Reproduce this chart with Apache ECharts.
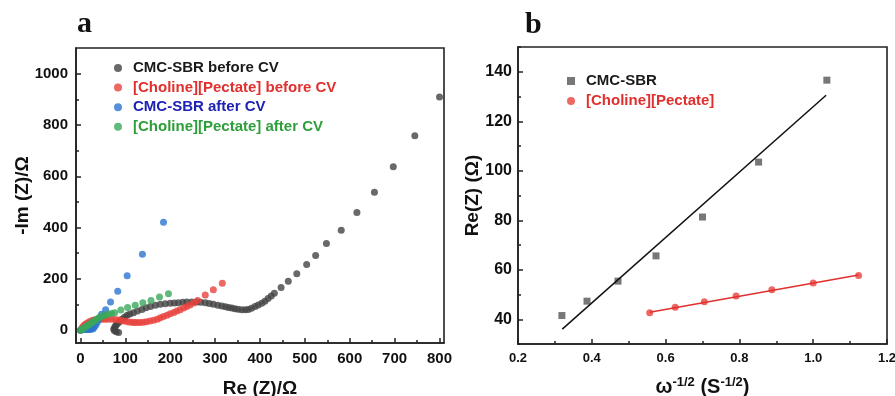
<!DOCTYPE html>
<html><head><meta charset="utf-8">
<script src="https://cdn.jsdelivr.net/npm/echarts@6/dist/echarts.min.js"></script>
<style>html,body{margin:0;padding:0;background:#fff}#c{width:895px;height:396px}</style>
</head><body><div id="c"></div>
<script>
// ---- Panel a: Nyquist data (Re Z, -Im Z) ----
const cmcBefore = [[85,-9],[80,-6],[76,-2],[74,4],[76,10],[78,16],[81,23],[85,30],[89,37],[93,43],[98,50],[104,58],[110,63],[118,68],[127,75],[137,81],[146,87],[156,92],[167,97],[178,101],[189,103],[200,105],[209,106],[218,107],[228,109],[237,110],[248,110],[259,110],[268,109],[278,107],[287,104],[296,101],[306,97],[315,94],[323,91],[330,88],[337,86],[344,84],[351,82],[359,80],[367,80],[374,81],[381,85],[389,92],[396,98],[404,105],[411,113],[418,123],[425,133],[432,144],[447,166],[463,191],[482,220],[504,256],[524,291],[548,338],[581,390],[616,459],[655,538],[697,637],[745,758],[800,909]];
const cholBefore = [[0,0],[2,5],[4,10],[7,16],[10,22],[15,28],[20,33],[25,37],[30,40],[36,42],[42,43],[48,43],[55,43],[62,43],[70,43],[78,42],[86,40],[93,37],[100,35],[107,32],[114,31],[120,30],[126,30],[133,30],[140,31],[147,33],[155,36],[163,39],[171,43],[178,48],[185,53],[193,58],[200,64],[208,69],[215,75],[222,80],[230,86],[237,92],[244,98],[252,106],[261,116],[278,137],[296,158],[316,183]];
const cmcAfter = [[0,0],[4,2],[8,3],[12,3],[16,3],[20,3],[24,4],[28,6],[31,12],[34,20],[37,30],[40,40],[43,50],[47,62],[56,80],[67,110],[83,152],[104,212],[138,296],[185,421]];
const cholAfter = [[0,0],[3,3],[6,6],[9,10],[12,14],[15,17],[19,22],[23,27],[27,32],[31,37],[35,41],[40,46],[45,51],[50,55],[55,59],[62,62],[69,65],[76,68],[90,79],[105,88],[122,97],[139,107],[157,116],[176,129],[196,142]];
const namesA = ['CMC-SBR before CV','[Choline][Pectate] before CV','CMC-SBR after CV','[Choline][Pectate] after CV'];
const ticksAX = [0,100,200,300,400,500,600,700,800];
const minorAX = [50,150,250,350,450,550,650,750];
const ticksAY = [0,200,400,600,800,1000];
const minorAY = [100,300,500,700,900];

// ---- Panel b: Re(Z) vs omega^-1/2 ----
const omegaCMC = [0.319,0.387,0.471,0.574,0.700,0.852,1.037];
const reCMC = [41.5,47.3,55.4,65.6,81.3,103.5,136.6];
const omegaChol = [0.557,0.626,0.705,0.791,0.888,1.000,1.123];
const reChol = [42.6,44.8,47.1,49.4,51.9,54.6,57.7];
const fitCMC = [[0.32,36.0],[1.035,130.5]];
const fitChol = [[0.557,42.8],[1.123,57.9]];
const namesB = ['CMC-SBR','[Choline][Pectate]'];
const ticksBX = [0.2,0.4,0.6,0.8,1.0,1.2];
const minorBX = [0.3,0.5,0.7,0.9,1.1];
const ticksBY = [40,60,80,100,120,140];
const minorBY = [30,50,70,90,110,130,150];

const FONT = 'Arial, "Liberation Sans", sans-serif';
const AX = '#222';
const zip = (a,b)=>a.map((v,i)=>[v,b[i]]);

function mainAxis(opts){
  return Object.assign({
    type:'value', scale:false, nameMoveOverlap:false,
    axisLine:{show:true,onZero:false,lineStyle:{color:AX,width:1.6}},
    splitLine:{show:false}, minorTick:{show:false}
  }, opts);
}
function minorAxis(opts){
  return Object.assign({
    type:'value',
    axisLine:{show:false,onZero:false},
    axisLabel:{show:false},
    splitLine:{show:false}
  }, opts);
}
const majTick = vals => ({show:true,inside:true,length:5,customValues:vals,lineStyle:{color:AX,width:1.5}});
const minTick = vals => ({show:true,inside:true,length:3,customValues:vals,lineStyle:{color:AX,width:1.5}});

const chart = echarts.init(document.getElementById('c'), null, {renderer:'canvas'});
const option = {
  backgroundColor:'#fff',
  animation:false,
  textStyle:{fontFamily:FONT},
  title:[
    {text:'a', left:72, top:4, textStyle:{fontFamily:'"Liberation Serif","Times New Roman",serif',fontWeight:'bold',fontSize:30,color:'#111'}},
    {text:'b', left:520, top:5, textStyle:{fontFamily:'"Liberation Serif","Times New Roman",serif',fontWeight:'bold',fontSize:30,color:'#111'}}
  ],
  grid:[
    {left:76, right:451, top:48, bottom:53, show:true, borderColor:AX, borderWidth:1.6, containLabel:false, outerBoundsMode:'none'},
    {left:518, right:8, top:47, bottom:52, show:true, borderColor:AX, borderWidth:1.6, containLabel:false, outerBoundsMode:'none'}
  ],
  xAxis:[
    mainAxis({gridIndex:0, position:'bottom', min:-10, max:810,
      name:'Re (Z)/Ω', nameLocation:'middle', nameGap:36,
      nameTextStyle:{fontFamily:FONT,fontWeight:'bold',fontSize:19,color:'#111'},
      axisTick:majTick(ticksAX),
      axisLabel:{customValues:ticksAX,fontFamily:FONT,fontWeight:'bold',fontSize:15,color:'#111',margin:8,formatter:v=>String(v)}}),
    minorAxis({gridIndex:0, position:'bottom', min:-10, max:810, axisTick:minTick(minorAX)}),
    mainAxis({gridIndex:1, position:'bottom', min:0.2, max:1.2,
      name:'{b|ω}{s|-1/2}{b| (S}{s|-1/2}{b|)}', nameLocation:'middle', nameGap:32,
      nameTextStyle:{fontFamily:FONT,fontWeight:'bold',fontSize:20,color:'#111',
        rich:{b:{fontFamily:FONT,fontWeight:'bold',fontSize:20,color:'#111',lineHeight:22},
              s:{fontFamily:FONT,fontWeight:'bold',fontSize:13,color:'#111',verticalAlign:'top',lineHeight:22,padding:[0,0,10,0]}}},
      axisTick:majTick(ticksBX),
      axisLabel:{customValues:ticksBX,fontFamily:FONT,fontWeight:'bold',fontSize:13,color:'#111',margin:8,
        formatter:v=>v.toFixed(1)}}),
    minorAxis({gridIndex:1, position:'bottom', min:0.2, max:1.2, axisTick:minTick(minorBX)})
  ],
  yAxis:[
    mainAxis({gridIndex:0, position:'left', min:-50, max:1100,
      name:'-Im (Z)/Ω', nameLocation:'middle', nameGap:44,
      nameTextStyle:{fontFamily:FONT,fontWeight:'bold',fontSize:19,color:'#111'},
      axisTick:majTick(ticksAY),
      axisLabel:{customValues:ticksAY,fontFamily:FONT,fontWeight:'bold',fontSize:15,color:'#111',margin:8,formatter:v=>String(v)}}),
    minorAxis({gridIndex:0, position:'left', min:-50, max:1100, axisTick:minTick(minorAY)}),
    mainAxis({gridIndex:1, position:'left', min:30, max:150,
      name:'Re(Z) (Ω)', nameLocation:'middle', nameGap:36,
      nameTextStyle:{fontFamily:FONT,fontWeight:'bold',fontSize:19,color:'#111'},
      axisTick:majTick(ticksBY),
      axisLabel:{customValues:ticksBY,fontFamily:FONT,fontWeight:'bold',fontSize:16,color:'#111',margin:6,formatter:v=>String(v)}}),
    minorAxis({gridIndex:1, position:'left', min:30, max:150, axisTick:minTick(minorBY)})
  ],
  legend:[
    {left:109, top:55, orient:'vertical', itemWidth:8, itemHeight:8, itemGap:3.6,
     icon:'circle',
     textStyle:{fontFamily:FONT,fontWeight:'bold',fontSize:15,lineHeight:16,padding:[0,0,0,6]},
     data:[
       {name:namesA[0], textStyle:{color:'#1a1a1a'}},
       {name:namesA[1], textStyle:{color:'#e0302e'}},
       {name:namesA[2], textStyle:{color:'#1e22b4'}},
       {name:namesA[3], textStyle:{color:'#2e9e3a'}}
     ]},
    {left:562, top:68, orient:'vertical', itemWidth:8, itemHeight:8, itemGap:4,
     textStyle:{fontFamily:FONT,fontWeight:'bold',fontSize:15,lineHeight:16,padding:[0,0,0,6]},
     data:[
       {name:namesB[0], icon:'rect', textStyle:{color:'#1a1a1a'}},
       {name:namesB[1], icon:'circle', textStyle:{color:'#e0302e'}}
     ]}
  ],
  series:[
    {name:namesA[0], type:'scatter', xAxisIndex:0, yAxisIndex:0, symbol:'circle', symbolSize:7, itemStyle:{color:'#444'}, data:cmcBefore},
    {name:namesA[1], type:'scatter', xAxisIndex:0, yAxisIndex:0, symbol:'circle', symbolSize:7, itemStyle:{color:'#e8413c'}, data:cholBefore},
    {name:namesA[2], type:'scatter', xAxisIndex:0, yAxisIndex:0, symbol:'circle', symbolSize:7, itemStyle:{color:'#2a74d0'}, data:cmcAfter},
    {name:namesA[3], type:'scatter', xAxisIndex:0, yAxisIndex:0, symbol:'circle', symbolSize:7, itemStyle:{color:'#3aa85a'}, data:cholAfter},
    {name:'fitCMC', type:'line', xAxisIndex:2, yAxisIndex:2, symbol:'none', lineStyle:{color:'#111',width:1.5}, data:fitCMC, silent:true},
    {name:'fitChol', type:'line', xAxisIndex:2, yAxisIndex:2, symbol:'none', lineStyle:{color:'#e0302e',width:1.5}, data:fitChol, silent:true},
    {name:namesB[0], type:'scatter', xAxisIndex:2, yAxisIndex:2, symbol:'rect', symbolSize:7, itemStyle:{color:'#555'}, data:zip(omegaCMC,reCMC)},
    {name:namesB[1], type:'scatter', xAxisIndex:2, yAxisIndex:2, symbol:'circle', symbolSize:7, itemStyle:{color:'#e8413c'}, data:zip(omegaChol,reChol)}
  ]
};
chart.setOption(option);
</script></body></html>
